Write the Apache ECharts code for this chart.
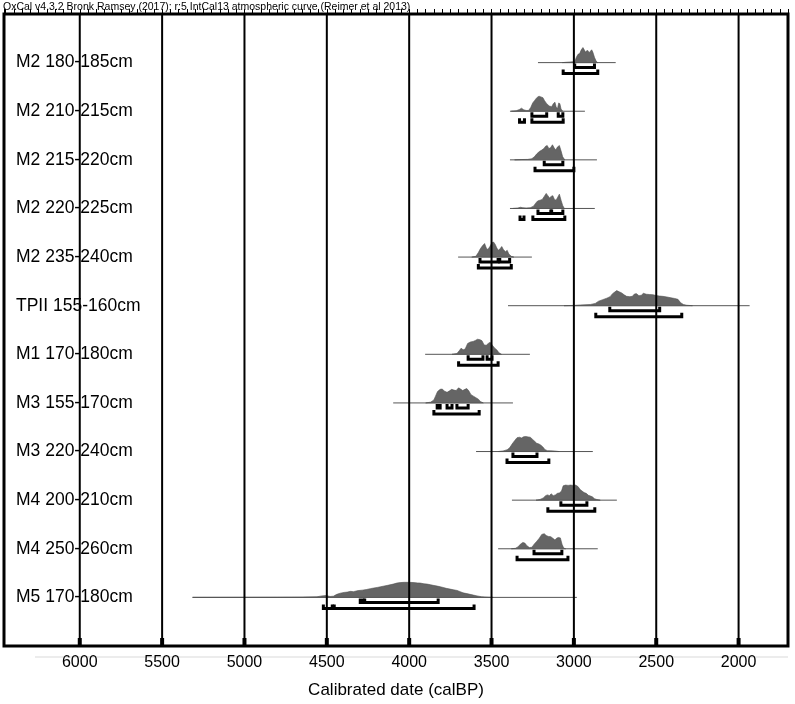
<!DOCTYPE html>
<html><head><meta charset="utf-8">
<script src="https://cdn.jsdelivr.net/npm/echarts@6/dist/echarts.min.js"></script>
<style>html,body{margin:0;padding:0;background:#fff}#c{width:795px;height:704px}</style>
</head><body><div id="c"></div>
<script>
const titleText = 'OxCal v4.3.2 Bronk Ramsey (2017); r:5 IntCal13 atmospheric curve (Reimer et al 2013)';
const axisTitle = 'Calibrated date (calBP)';
const rowNames = ['M2 180-185cm','M2 210-215cm','M2 215-220cm','M2 220-225cm','M2 235-240cm','TPII 155-160cm','M1 170-180cm','M3 155-170cm','M3 220-240cm','M4 200-210cm','M4 250-260cm','M5 170-180cm'];
const majorTicks = [6000,5500,5000,4500,4000,3500,3000,2500,2000];

// extent of each plotted distribution line [older, younger] (cal BP)
const lineRanges = [[3218,2746],[3388,2933],[3388,2860],[3388,2873],[3703,3255],[3400,1933],[3903,3267],[4097,3370],[3594,2885],[3376,2739],[3460,2855],[5315,2982]];

// probability distributions [cal BP, relative density]
const distM2_180 = [[3070,0],[3040,0.03],[3010,0.05],[2995,0.08],[2985,0.35],[2975,0.55],[2965,0.6],[2955,0.85],[2945,1.0],[2937,0.85],[2930,0.7],[2922,0.78],[2915,0.8],[2908,0.65],[2900,0.75],[2892,0.85],[2885,0.7],[2875,0.35],[2865,0.1],[2855,0]];
const distM2_210 = [[3380,0],[3350,0.03],[3330,0.12],[3318,0.2],[3305,0.1],[3290,0.05],[3275,0.05],[3262,0.25],[3250,0.55],[3238,0.72],[3225,0.9],[3212,1.0],[3200,0.95],[3188,0.9],[3178,0.7],[3165,0.5],[3150,0.35],[3135,0.3],[3125,0.5],[3115,0.6],[3108,0.3],[3100,0.15],[3092,0.55],[3085,0.5],[3078,0.15],[3068,0]];
const distM2_215 = [[3360,0],[3320,0.02],[3280,0.03],[3255,0.08],[3240,0.2],[3225,0.4],[3210,0.55],[3195,0.65],[3182,0.75],[3172,0.9],[3162,0.95],[3152,0.75],[3142,0.8],[3130,1.0],[3120,0.8],[3110,0.65],[3100,0.85],[3088,0.95],[3078,0.6],[3068,0.2],[3055,0]];
const distM2_220 = [[3370,0],[3340,0.03],[3325,0.08],[3310,0.05],[3290,0.03],[3265,0.05],[3245,0.15],[3232,0.35],[3220,0.5],[3205,0.55],[3192,0.6],[3180,0.8],[3168,1.0],[3158,0.85],[3148,0.7],[3138,0.8],[3128,0.85],[3118,0.6],[3108,0.55],[3098,0.75],[3088,0.95],[3078,0.55],[3068,0.2],[3058,0]];
const distM2_235 = [[3620,0],[3595,0.05],[3580,0.3],[3568,0.55],[3555,0.75],[3542,0.9],[3532,0.6],[3522,0.5],[3510,0.7],[3498,0.95],[3488,1.0],[3478,0.85],[3468,0.6],[3458,0.45],[3448,0.55],[3438,0.7],[3428,0.5],[3415,0.35],[3405,0.45],[3395,0.2],[3380,0.05],[3365,0]];
const distTPII = [[3060,0],[3000,0.02],[2960,0.05],[2900,0.08],[2870,0.15],[2850,0.3],[2825,0.4],[2800,0.5],[2780,0.6],[2765,0.8],[2750,0.92],[2740,1.0],[2725,0.92],[2710,0.85],[2695,0.72],[2680,0.62],[2660,0.6],[2645,0.62],[2632,0.78],[2620,0.8],[2605,0.66],[2590,0.7],[2578,0.82],[2560,0.76],[2540,0.74],[2520,0.73],[2500,0.67],[2480,0.64],[2460,0.62],[2436,0.58],[2410,0.52],[2388,0.48],[2368,0.42],[2352,0.2],[2335,0.08],[2315,0.03],[2280,0]];
const distM1_170 = [[3740,0],[3710,0.05],[3695,0.25],[3685,0.4],[3672,0.3],[3660,0.35],[3645,0.72],[3628,0.82],[3612,0.85],[3598,0.92],[3585,1.0],[3570,0.97],[3558,0.9],[3545,0.62],[3532,0.6],[3520,0.72],[3508,0.8],[3495,0.6],[3480,0.4],[3467,0.28],[3455,0.1],[3440,0]];
const distM3_155 = [[3900,0],[3870,0.05],[3850,0.2],[3840,0.45],[3828,0.75],[3812,0.9],[3800,0.92],[3785,0.78],[3770,0.7],[3755,0.8],[3742,0.9],[3728,0.85],[3715,0.82],[3700,1.0],[3688,0.92],[3675,0.82],[3662,0.9],[3650,0.95],[3638,0.8],[3625,0.55],[3610,0.45],[3595,0.35],[3580,0.25],[3568,0.1],[3550,0]];
const distM3_220 = [[3460,0],[3430,0.04],[3405,0.12],[3390,0.25],[3375,0.5],[3360,0.72],[3345,0.92],[3330,0.95],[3318,0.9],[3305,0.98],[3292,1.0],[3278,0.97],[3265,0.95],[3252,0.82],[3240,0.7],[3226,0.55],[3212,0.5],[3200,0.42],[3188,0.3],[3175,0.12],[3160,0.06],[3140,0.05],[3120,0.04],[3090,0]];
const distM4_200 = [[3230,0],[3205,0.05],[3185,0.15],[3172,0.3],[3160,0.35],[3148,0.3],[3138,0.42],[3125,0.3],[3112,0.35],[3100,0.45],[3088,0.48],[3075,0.6],[3065,0.95],[3050,1.0],[3035,0.98],[3020,1.0],[3005,0.98],[2990,1.0],[2975,0.9],[2962,0.7],[2950,0.6],[2938,0.5],[2925,0.45],[2912,0.32],[2900,0.28],[2888,0.22],[2875,0.1],[2860,0.04],[2840,0]];
const distM4_250 = [[3380,0],[3355,0.03],[3340,0.12],[3325,0.3],[3310,0.42],[3298,0.38],[3285,0.2],[3270,0.08],[3255,0.1],[3240,0.32],[3225,0.5],[3210,0.7],[3195,0.95],[3180,1.0],[3168,0.88],[3155,0.82],[3140,0.8],[3128,0.7],[3115,0.58],[3105,0.7],[3095,0.75],[3082,0.72],[3072,0.3],[3062,0.05],[3050,0]];
const distM5_170 = [[5315,0],[5000,0.005],[4800,0.01],[4650,0.02],[4560,0.04],[4530,0.1],[4505,0.12],[4480,0.06],[4460,0.08],[4440,0.2],[4418,0.28],[4395,0.33],[4376,0.35],[4355,0.4],[4339,0.38],[4310,0.45],[4285,0.48],[4260,0.52],[4236,0.58],[4215,0.62],[4194,0.66],[4175,0.7],[4158,0.74],[4130,0.8],[4110,0.85],[4097,0.88],[4075,0.95],[4055,0.98],[4030,1.0],[4000,1.0],[3970,0.98],[3950,0.96],[3933,0.95],[3910,0.9],[3891,0.88],[3870,0.84],[3855,0.8],[3830,0.75],[3810,0.7],[3794,0.66],[3775,0.6],[3752,0.55],[3730,0.5],[3709,0.46],[3690,0.38],[3673,0.3],[3650,0.25],[3630,0.2],[3610,0.15],[3588,0.1],[3560,0.04],[3520,0.01],[3490,0]];
const distributions = [distM2_180,distM2_210,distM2_215,distM2_220,distM2_235,distTPII,distM1_170,distM3_155,distM3_220,distM4_200,distM4_250,distM5_170];

// 68.2% and 95.4% ranges [older, younger]
const range68 = [
  [[2995,2875]],
  [[3255,3165],[3095,3067]],
  [[3180,3067]],
  [[3218,3140],[3135,3067]],
  [[3570,3460],[3450,3390]],
  [[2782,2479]],
  [[3642,3552],[3527,3497]],
  [[3830,3812],[3770,3740],[3710,3642]],
  [[3370,3224]],
  [[3079,2921]],
  [[3242,3073]],
  [[4297,4280],[4270,3824]]
];
const range95 = [
  [[3065,2855]],
  [[3330,3300],[3255,3065]],
  [[3236,3000]],
  [[3327,3303],[3249,3055]],
  [[3580,3380]],
  [[2867,2345]],
  [[3700,3460]],
  [[3850,3575]],
  [[3406,3152]],
  [[3158,2873]],
  [[3345,3036]],
  [[4521,4467],[4455,3606]]
];

const FONT = "'Liberation Sans', Arial, Helvetica, sans-serif";
const PEAK = 0.31; // peak height in row units

const bracketData = [];
range68.forEach((rs, i) => rs.forEach(r => bracketData.push([r[0], r[1], i + 1, 0])));
range95.forEach((rs, i) => rs.forEach(r => bracketData.push([r[0], r[1], i + 1, 1])));

const chart = echarts.init(document.getElementById('c'), null, {renderer: 'canvas'});
chart.setOption({
  animation: false,
  backgroundColor: '#fff',
  title: {
    text: titleText, left: 3, top: 2, padding: 0,
    textStyle: {fontSize: 10.5, fontWeight: 'normal', color: '#000', fontFamily: FONT}
  },
  grid: {left: 4, right: 7, top: 14, bottom: 57, show: true, borderColor: '#000', borderWidth: 3, backgroundColor: 'transparent'},
  xAxis: {
    type: 'value', inverse: true, min: 1700, max: 6460, interval: 50,
    axisLine: {show: false},
    axisTick: {show: true, inside: true, length: 5, lineStyle: {color: '#000', width: 1}},
    splitLine: {show: false},
    axisLabel: {
      color: '#000', fontSize: 16, fontFamily: FONT, margin: 9,
      formatter: v => majorTicks.indexOf(v) >= 0 ? String(v) : ''
    },
    name: axisTitle, nameLocation: 'middle', nameGap: 36,
    nameTextStyle: {color: '#000', fontSize: 17, fontFamily: FONT}
  },
  yAxis: {
    type: 'value', inverse: true, min: 0, max: 13, interval: 1,
    axisLine: {show: false}, axisTick: {show: false}, splitLine: {show: false},
    axisLabel: {
      inside: true, margin: 12, color: '#000', fontSize: 17.5, fontFamily: FONT, align: 'left',
      formatter: v => rowNames[v - 1] || ''
    }
  },
  graphic: [{
    type: 'line', shape: {x1: 35, y1: 657, x2: 788, y2: 657},
    style: {stroke: '#e6e6e6', lineWidth: 1.5}, silent: true
  }],
  series: [
    {
      type: 'custom', name: 'lines', silent: true, z: 2,
      data: lineRanges.map((r, i) => [r[0], r[1], i + 1]),
      encode: {x: [0, 1], y: 2},
      renderItem: (params, api) => {
        const a = api.coord([api.value(0), api.value(2)]);
        const b = api.coord([api.value(1), api.value(2)]);
        return {type: 'line', shape: {x1: a[0], y1: a[1], x2: b[0], y2: b[1]},
          style: {stroke: '#555', lineWidth: 1}};
      }
    },
    {
      type: 'custom', name: 'distributions', silent: true, z: 3,
      data: distributions.map((d, i) => [d[0][0], i + 1]),
      encode: {x: 0, y: 1},
      renderItem: (params, api) => {
        const i = params.dataIndex;
        const row = i + 1;
        const pts = distributions[i].map(p => api.coord([p[0], row - p[1] * PEAK]));
        return {type: 'polygon', shape: {points: pts},
          style: {fill: '#656565', stroke: '#505050', lineWidth: 0.6}};
      }
    },
    {
      type: 'custom', name: 'ranges', silent: true, z: 4,
      data: bracketData,
      encode: {x: [0, 1], y: 2},
      renderItem: (params, api) => {
        const a = api.coord([api.value(0), api.value(2)]);
        const b = api.coord([api.value(1), api.value(2)]);
        const y = a[1] + (api.value(3) === 0 ? 5 : 11);
        return {type: 'polyline',
          shape: {points: [[a[0], y - 4], [a[0], y], [b[0], y], [b[0], y - 4]]},
          style: {stroke: '#000', lineWidth: 3, fill: null, lineJoin: 'miter', lineCap: 'butt'}};
      }
    },
    {
      type: 'custom', name: 'grid lines', silent: true, z: 5,
      data: majorTicks.map(v => [v, 0]),
      encode: {x: 0, y: 1},
      renderItem: (params, api) => {
        const t = api.coord([api.value(0), 0]);
        const b = api.coord([api.value(0), 13]);
        return {type: 'group', children: [
          {type: 'line', shape: {x1: t[0], y1: t[1], x2: b[0], y2: b[1]}, style: {stroke: '#000', lineWidth: 2}},
          {type: 'rect', shape: {x: b[0] - 2, y: b[1] - 8, width: 4, height: 8}, style: {fill: '#000'}}
        ]};
      }
    }
  ]
});
</script>
</body></html>
